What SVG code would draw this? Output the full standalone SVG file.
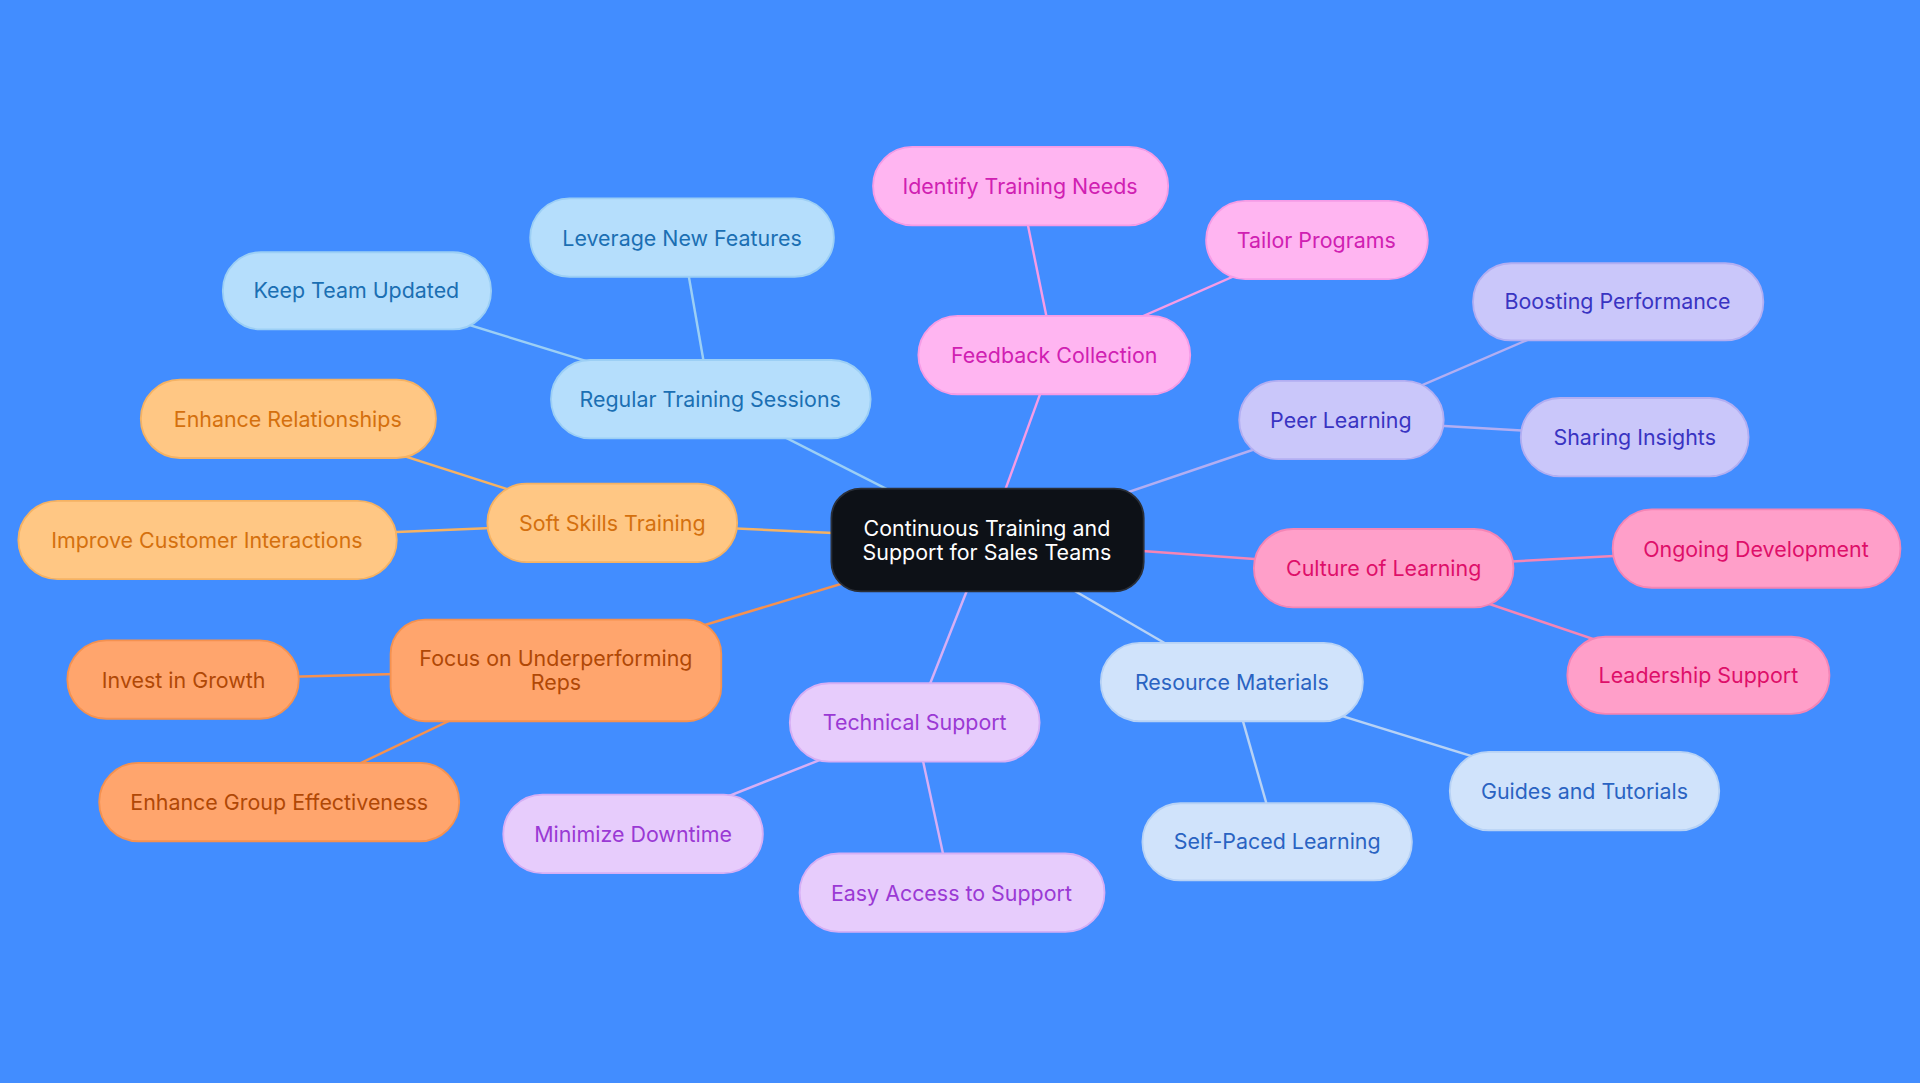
<svg xmlns="http://www.w3.org/2000/svg" width="1920" height="1083" viewBox="0 0 1920 1083">
<style>
text{font-family:Inter,"Noto Sans",sans-serif;font-size:17.5px;text-anchor:middle;dominant-baseline:central}
rect{stroke-width:1.5}
line{stroke-width:2}
.b rect{fill:#b5defc;stroke:#9ccff5}.b text{fill:#1b6fb3}
.p rect{fill:#ffb5f1;stroke:#f59ce6}.p text{fill:#d020b2}
.l rect{fill:#cac7fa;stroke:#b2aef2}.l text{fill:#3934c2}
.r rect{fill:#ff9fc9;stroke:#f585b5}.r text{fill:#de0f69}
.s rect{fill:#d0e3fb;stroke:#b7d2f5}.s text{fill:#2a63c2}
.v rect{fill:#e7ccfc;stroke:#d6aff5}.v text{fill:#9a39d4}
.o rect{fill:#ffa56d;stroke:#f5914f}.o text{fill:#b04806}
.y rect{fill:#ffc784;stroke:#f5b263}.y text{fill:#d4700e}
</style>
<rect width="1920" height="1083" fill="#428dff"/>
<g transform="scale(1.2245)">
<g id="connectors">
<line x1="806" y1="441" x2="580" y2="326" stroke="#9ccff5"/>
<line x1="580" y1="326" x2="557" y2="194" stroke="#9ccff5"/>
<line x1="580" y1="326" x2="291" y2="237" stroke="#9ccff5"/>
<line x1="806" y1="441" x2="861" y2="290" stroke="#f59ce6"/>
<line x1="861" y1="290" x2="833" y2="152" stroke="#f59ce6"/>
<line x1="861" y1="290" x2="1075" y2="196" stroke="#f59ce6"/>
<line x1="806" y1="441" x2="1095" y2="343" stroke="#b2aef2"/>
<line x1="1095" y1="343" x2="1321" y2="246" stroke="#b2aef2"/>
<line x1="1095" y1="343" x2="1335" y2="357" stroke="#b2aef2"/>
<line x1="806" y1="441" x2="1130" y2="464" stroke="#f585b5"/>
<line x1="1130" y1="464" x2="1434" y2="448" stroke="#f585b5"/>
<line x1="1130" y1="464" x2="1387" y2="551" stroke="#f585b5"/>
<line x1="806" y1="441" x2="1006" y2="557" stroke="#b7d2f5"/>
<line x1="1006" y1="557" x2="1294" y2="646" stroke="#b7d2f5"/>
<line x1="1006" y1="557" x2="1043" y2="687" stroke="#b7d2f5"/>
<line x1="806" y1="441" x2="747" y2="590" stroke="#d6aff5"/>
<line x1="747" y1="590" x2="517" y2="681" stroke="#d6aff5"/>
<line x1="747" y1="590" x2="777" y2="729" stroke="#d6aff5"/>
<line x1="806" y1="441" x2="454" y2="547" stroke="#f5914f"/>
<line x1="454" y1="547" x2="150" y2="555" stroke="#f5914f"/>
<line x1="454" y1="547" x2="228" y2="655" stroke="#f5914f"/>
<line x1="806" y1="441" x2="500" y2="427" stroke="#f5b263"/>
<line x1="500" y1="427" x2="235" y2="342" stroke="#f5b263"/>
<line x1="500" y1="427" x2="169" y2="441" stroke="#f5b263"/>
</g>
<g id="center"><rect x="679" y="399" width="255" height="84" rx="24" fill="#0d1117" stroke="#2a2f38"/><text x="806" y="431" fill="#fff">Continuous Training and</text><text x="806" y="451" fill="#fff">Support for Sales Teams</text></g>
<g id="n1" class="b"><rect x="450" y="294" width="261" height="64" rx="32"/><text x="580" y="326">Regular Training Sessions</text></g>
<g id="n2" class="b"><rect x="433" y="162" width="248" height="64" rx="32"/><text x="557" y="194">Leverage New Features</text></g>
<g id="n3" class="b"><rect x="182" y="206" width="219" height="63" rx="31"/><text x="291" y="237">Keep Team Updated</text></g>
<g id="n4" class="p"><rect x="750" y="258" width="222" height="64" rx="32"/><text x="861" y="290">Feedback Collection</text></g>
<g id="n5" class="p"><rect x="713" y="120" width="241" height="64" rx="32"/><text x="833" y="152">Identify Training Needs</text></g>
<g id="n6" class="p"><rect x="985" y="164" width="181" height="64" rx="32"/><text x="1075" y="196">Tailor Programs</text></g>
<g id="n7" class="l"><rect x="1012" y="311" width="167" height="64" rx="32"/><text x="1095" y="343">Peer Learning</text></g>
<g id="n8" class="l"><rect x="1203" y="215" width="237" height="63" rx="31"/><text x="1321" y="246">Boosting Performance</text></g>
<g id="n9" class="l"><rect x="1242" y="325" width="186" height="64" rx="32"/><text x="1335" y="357">Sharing Insights</text></g>
<g id="n10" class="r"><rect x="1024" y="432" width="212" height="64" rx="32"/><text x="1130" y="464">Culture of Learning</text></g>
<g id="n11" class="r"><rect x="1317" y="416" width="235" height="64" rx="32"/><text x="1434" y="448">Ongoing Development</text></g>
<g id="n12" class="r"><rect x="1280" y="520" width="214" height="63" rx="31"/><text x="1387" y="551">Leadership Support</text></g>
<g id="n13" class="s"><rect x="899" y="525" width="214" height="64" rx="32"/><text x="1006" y="557">Resource Materials</text></g>
<g id="n14" class="s"><rect x="1184" y="614" width="220" height="64" rx="32"/><text x="1294" y="646">Guides and Tutorials</text></g>
<g id="n15" class="s"><rect x="933" y="656" width="220" height="63" rx="31"/><text x="1043" y="687">Self-Paced Learning</text></g>
<g id="n16" class="v"><rect x="645" y="558" width="204" height="64" rx="32"/><text x="747" y="590">Technical Support</text></g>
<g id="n17" class="v"><rect x="411" y="649" width="212" height="64" rx="32"/><text x="517" y="681">Minimize Downtime</text></g>
<g id="n18" class="v"><rect x="653" y="697" width="249" height="64" rx="32"/><text x="777" y="729">Easy Access to Support</text></g>
<g id="n19" class="o"><rect x="319" y="506" width="270" height="83" rx="28"/><text x="454" y="537">Focus on Underperforming</text><text x="454" y="557">Reps</text></g>
<g id="n20" class="o"><rect x="55" y="523" width="189" height="64" rx="32"/><text x="150" y="555">Invest in Growth</text></g>
<g id="n21" class="o"><rect x="81" y="623" width="294" height="64" rx="32"/><text x="228" y="655">Enhance Group Effectiveness</text></g>
<g id="n22" class="y"><rect x="398" y="395" width="204" height="64" rx="32"/><text x="500" y="427">Soft Skills Training</text></g>
<g id="n23" class="y"><rect x="115" y="310" width="241" height="64" rx="32"/><text x="235" y="342">Enhance Relationships</text></g>
<g id="n24" class="y"><rect x="15" y="409" width="309" height="64" rx="32"/><text x="169" y="441">Improve Customer Interactions</text></g>
</g>
</svg>
